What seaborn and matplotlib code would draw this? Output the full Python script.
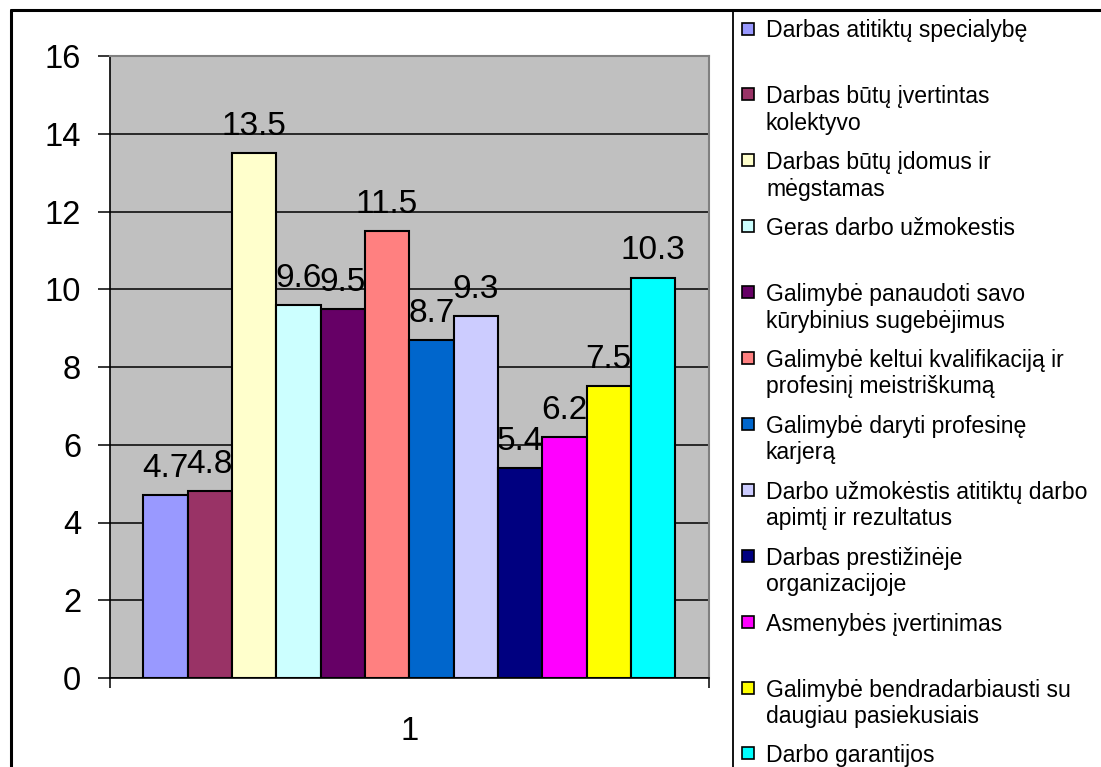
import matplotlib
matplotlib.use("Agg")
import matplotlib.pyplot as plt
from matplotlib.lines import Line2D
from matplotlib.patches import Rectangle
import seaborn as sns
import pandas as pd

# Survey answers: what matters most in a future job (percent)
categories = [
    "Darbas atitiktų specialybę",
    "Darbas būtų įvertintas\nkolektyvo",
    "Darbas būtų įdomus ir\nmėgstamas",
    "Geras darbo užmokestis",
    "Galimybė panaudoti savo\nkūrybinius sugebėjimus",
    "Galimybė keltui kvalifikaciją ir\nprofesinį meistriškumą",
    "Galimybė daryti profesinę\nkarjerą",
    "Darbo užmokėstis atitiktų darbo\napimtį ir rezultatus",
    "Darbas prestižinėje\norganizacijoje",
    "Asmenybės įvertinimas",
    "Galimybė bendradarbiausti su\ndaugiau pasiekusiais",
    "Darbo garantijos",
]
values = [4.7, 4.8, 13.5, 9.6, 9.5, 11.5, 8.7, 9.3, 5.4, 6.2, 7.5, 10.3]
group = ["1"] * len(values)
colors = ["#9999FF", "#993366", "#FFFFCC", "#CCFFFF", "#660066", "#FF8080",
          "#0066CC", "#CCCCFF", "#000080", "#FF00FF", "#FFFF00", "#00FFFF"]
yticks = [0, 2, 4, 6, 8, 10, 12, 14, 16]

sns.set_style("white")
plt.rcParams["font.family"] = ["Liberation Sans", "DejaVu Sans"]
plt.rcParams.update({"text.color": "black", "axes.labelcolor": "black",
                     "xtick.color": "black", "ytick.color": "black"})

W, H = 1101, 767
fig = plt.figure(figsize=(W / 100, H / 100), dpi=100)
fig.patch.set_facecolor("white")

left, right, top, bottom = 109.5, 709, 56, 678
ax = fig.add_axes([left / W, 1 - bottom / H, (right - left) / W, (bottom - top) / H])

df = pd.DataFrame({"group": group, "answer": categories, "value": values})
sns.barplot(data=df, x="group", y="value", hue="answer", hue_order=categories,
            palette=colors, width=0.887, gap=0, edgecolor="black", linewidth=1.5,
            saturation=1, legend=False, ax=ax, zorder=3)

ax.set_facecolor("#C0C0C0")
ax.set_xlim(-0.5, 0.5)
ax.set_ylim(0, 16)
ax.set_yticks(yticks)
ax.set_yticklabels([str(t) for t in yticks], fontsize=23.5, color="black")
ax.yaxis.grid(True, color="black", linewidth=1.1, zorder=0)
ax.set_axisbelow(True)
ax.tick_params(axis="y", length=8.5, width=1.1, color="black", pad=12, left=True)
ax.set_xticks([0])
ax.set_xticklabels(["1"], fontsize=23.5, color="black")
ax.set_xticks([-0.5, 0.5], minor=True)
ax.tick_params(axis="x", which="major", length=0, pad=27)
ax.tick_params(axis="x", which="minor", length=7.5, width=1.1, color="black", bottom=True)
ax.set_xlabel("")
ax.set_ylabel("")

for side in ("left", "bottom"):
    ax.spines[side].set_color("black")
    ax.spines[side].set_linewidth(1.2)
for side in ("top", "right"):
    ax.spines[side].set_color("#808080")
    ax.spines[side].set_linewidth(1.5)

for cont in ax.containers:
    ax.bar_label(cont, fmt="%.1f", padding=8, fontsize=24, color="black")

# outer chart frame and legend frame (continue past the figure edge)
fig.add_artist(Line2D([10.5 / W, 1], [1 - 10 / H, 1 - 10 / H], color="black", linewidth=2.2))
fig.add_artist(Line2D([10.5 / W, 10.5 / W], [0, 1 - 10 / H], color="black", linewidth=2.2))
fig.add_artist(Line2D([733 / W, 733 / W], [0, 1 - 10 / H], color="black", linewidth=1.3))

# legend entries, two-line slots
for i, (lab, col) in enumerate(zip(categories, colors)):
    yc = 28.5 + 65.9 * i
    fig.add_artist(Rectangle((742 / W, 1 - (yc + 6) / H), 12 / W, 12 / H,
                             facecolor=col, edgecolor="black", linewidth=1.2))
    lines = lab.split("\n")
    for j, ln in enumerate(lines):
        fig.text(766 / W, 1 - (yc + 26.5 * j) / H, ln, fontsize=16.6,
                 ha="left", va="center_baseline", color="black")

fig.savefig("out.png", dpi=100)
